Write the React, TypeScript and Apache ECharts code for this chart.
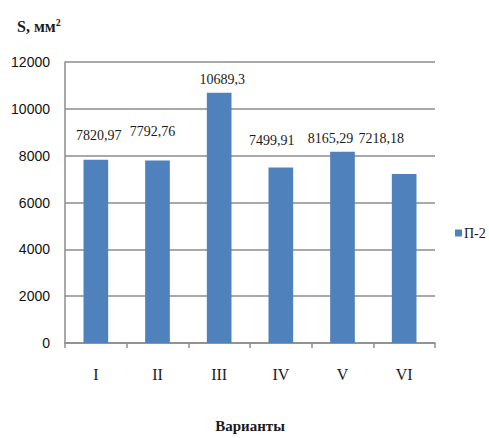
import React, { useEffect, useRef } from "react";
import * as echarts from "echarts";

const categories = ["I", "II", "III", "IV", "V", "VI"];
const values = [7820.97, 7792.76, 10689.3, 7499.91, 8165.29, 7218.18];
const valueLabels = ["7820,97", "7792,76", "10689,3", "7499,91", "8165,29", "7218,18"];
const seriesName = "П-2";
const yTicks = { min: 0, max: 12000, interval: 2000 };

// label nudges (style only): [dx, distance]
const labelNudges: [number, number][] = [
  [3, 17],
  [-5, 22],
  [3, 6],
  [-9, 20],
  [-12, 6],
  [-23, 28],
];

const serif = "'Liberation Serif', 'Times New Roman', serif";
const sans = "'Liberation Sans', Arial, sans-serif";

export default function App() {
  const ref = useRef<HTMLDivElement>(null);
  useEffect(() => {
    if (!ref.current) return;
    const chart = echarts.init(ref.current, null, { renderer: "svg" });
    chart.setOption({
      animation: false,
      backgroundColor: "#ffffff",
      title: {
        text: "{a|S, мм}{b|2}",
        left: 12,
        top: 12,
        textStyle: {
          rich: {
            a: { fontFamily: serif, fontWeight: "bold", fontSize: 16, color: "#1a1a1a" },
            b: { fontFamily: serif, fontWeight: "bold", fontSize: 10, color: "#1a1a1a", verticalAlign: "top", padding: [0, 0, 8, 0] },
          },
        },
      },
      legend: {
        data: [seriesName],
        left: 450,
        top: 221,
        itemWidth: 7,
        itemHeight: 7,
        itemGap: 2,
        icon: "rect",
        textStyle: { fontFamily: serif, fontSize: 14, color: "#1a1a1a", padding: [0, 0, 0, -3] },
      },
      grid: { left: 65, right: 54, top: 62, bottom: 86, containLabel: false },
      xAxis: {
        type: "category",
        data: categories,
        name: "Варианты",
        nameLocation: "middle",
        nameGap: 75,
        nameTextStyle: { fontFamily: serif, fontWeight: "bold", fontSize: 15, color: "#1a1a1a" },
        axisLine: { lineStyle: { color: "#8c8c8c", width: 1.5 } },
        axisTick: { show: true, length: 5, lineStyle: { color: "#8c8c8c", width: 1.5 } },
        axisLabel: { fontFamily: serif, fontSize: 16, color: "#222", margin: 23 },
      },
      yAxis: {
        type: "value",
        min: yTicks.min,
        max: yTicks.max,
        interval: yTicks.interval,
        axisLine: { show: true, lineStyle: { color: "#8c8c8c", width: 1.5 } },
        axisTick: { show: false },
        axisLabel: { fontFamily: sans, fontSize: 14, color: "#111", margin: 15, formatter: (v: number) => String(v) },
        splitLine: { lineStyle: { color: "#8c8c8c", width: 1.5 } },
      },
      series: [
        {
          name: seriesName,
          type: "bar",
          barWidth: "40%",
          itemStyle: { color: "#4F81BD" },
          data: values.map((v, i) => ({
            value: v,
            label: {
              show: true,
              position: "top",
              distance: labelNudges[i][1],
              offset: [labelNudges[i][0], 0],
              formatter: valueLabels[i],
              fontFamily: serif,
              fontSize: 14,
              color: "#1a1a1a",
            },
          })),
        },
      ],
    });
    return () => chart.dispose();
  }, []);
  return <div ref={ref} style={{ position: "fixed", left: 0, top: 0, width: 489, height: 438 }} />;
}
